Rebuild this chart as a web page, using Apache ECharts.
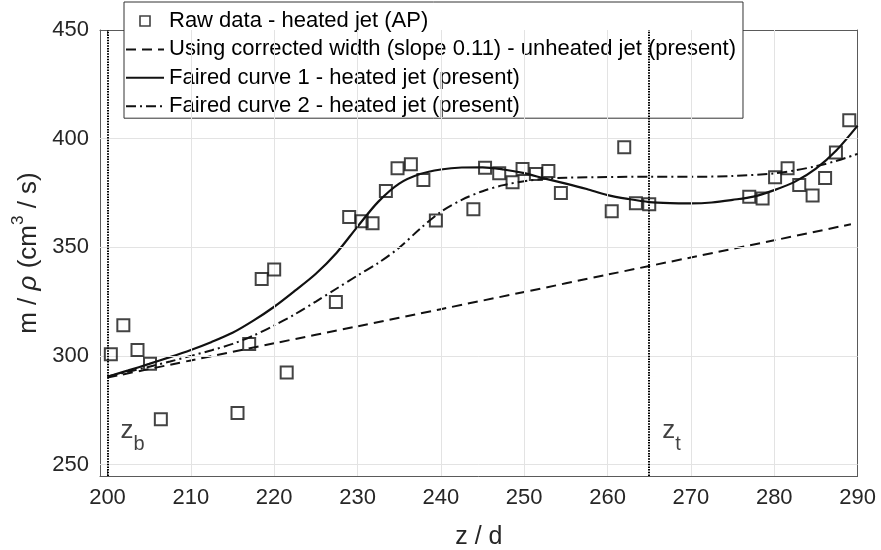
<!DOCTYPE html>
<html><head><meta charset="utf-8">
<script src="https://cdn.jsdelivr.net/npm/echarts@6/dist/echarts.min.js"></script>
<style>html,body{margin:0;padding:0;background:#fff}#c{width:881px;height:550px}</style>
</head><body><div id="c"></div>
<script>
// ---- data ----
const rawZ = [200.4, 201.9, 203.6, 205.1, 206.4, 215.6, 217.0, 218.5, 220.0, 221.5, 227.4, 229.0, 230.5, 231.8, 233.4, 234.8, 236.4, 237.9, 239.4, 243.9, 245.3, 247.0, 248.6, 249.8, 251.4, 252.9, 254.4, 260.5, 262.0, 263.4, 265.0, 277.0, 278.6, 280.1, 281.6, 283.0, 284.6, 286.1, 287.4, 289.0];
const rawM = [300.7, 314.1, 302.7, 296.4, 270.8, 273.7, 305.5, 335.4, 339.7, 292.4, 324.8, 363.9, 362.0, 361.0, 375.9, 386.4, 388.2, 381.0, 362.3, 367.5, 386.6, 384.1, 379.9, 386.0, 383.7, 385.1, 375.0, 366.6, 396.0, 370.3, 369.8, 373.2, 372.4, 382.2, 386.4, 378.7, 373.8, 381.9, 393.6, 408.5];

const dashZ = [200, 210, 220, 230, 240, 250, 260, 270, 280, 289.2];
const dashM = [290.0, 297.9, 305.8, 313.6, 321.5, 329.4, 337.4, 345.3, 353.2, 360.6];

const fair1Z = [200, 202.5, 205, 207.5, 210, 212.5, 215, 217.5, 220, 222.5, 225, 227.5, 230, 232.5, 235, 237.5, 240, 242.5, 245, 247.5, 250, 252.5, 255, 257.5, 260, 262.5, 265, 267.5, 270, 272.5, 275, 277.5, 280, 282.5, 285, 287.5, 290];
const fair1M = [290.4, 293.3, 296.3, 299.4, 302.7, 306.4, 310.6, 316.2, 322.6, 330.0, 337.8, 347.5, 359.5, 371.0, 379.3, 383.7, 385.8, 386.7, 386.8, 385.8, 384.1, 381.6, 379.3, 376.8, 374.0, 372.2, 370.8, 370.3, 370.2, 370.6, 371.8, 373.3, 376.3, 380.2, 386.2, 394.8, 406.0];

const fair2Z = [200, 202.5, 205, 207.5, 210, 212.5, 215, 217.5, 220, 222.5, 225, 227.5, 230, 232.5, 235, 237.5, 240, 242.5, 245, 247.5, 250, 252.5, 255, 260, 265, 270, 275, 280, 282.5, 285, 287.5, 290];
const fair2M = [290.5, 292.7, 295.0, 297.4, 300.0, 302.6, 305.5, 309.3, 314.0, 319.2, 325.0, 331.0, 337.0, 342.8, 349.8, 358.5, 366.3, 371.8, 375.8, 378.6, 380.4, 381.5, 382.0, 382.3, 382.5, 382.4, 382.8, 384.0, 385.4, 387.3, 389.8, 393.0];

const xTicks = [200, 210, 220, 230, 240, 250, 260, 270, 280, 290];
const yTicks = [250, 300, 350, 400, 450];
const zMarks = [200, 265];
const zMarkSubs = ['b', 't'];
const zLabelM = 263;

const seriesNames = [
  'Raw data - heated jet (AP)',
  'Using corrected width (slope 0.11) - unheated jet (present)',
  'Faired curve 1 - heated jet (present)',
  'Faired curve 2 - heated jet (present)'
];

// ---- chart ----
const FONT = "'Liberation Sans', Arial, Helvetica, sans-serif";
const pairs = (a, b) => a.map((v, i) => [v, b[i]]);
const X_MIN = 199.1, X_MAX = 290, Y_MIN = 244.7, Y_MAX = 450;
const AXC = '#5a5a5a';
const TXT = '#262626';

const chart = echarts.init(document.getElementById('c'), null, {renderer: 'canvas'});

function mkX(pos, show) {
  return {
    type: 'value', min: X_MIN, max: X_MAX, position: pos,
    axisLine: {show: true, onZero: false, lineStyle: {color: AXC, width: 1}},
    axisTick: {show: true, inside: true, length: 6, customValues: xTicks, lineStyle: {color: AXC, width: 1}},
    axisLabel: {show: show, customValues: xTicks, fontSize: 22, color: TXT, margin: 11, fontFamily: FONT},
    splitLine: {show: false},
    name: show ? 'z / d' : '', nameLocation: 'middle', nameGap: 49,
    nameTextStyle: {fontSize: 25, color: TXT, fontFamily: FONT}
  };
}
function mkY(pos, show) {
  return {
    type: 'value', min: Y_MIN, max: Y_MAX, position: pos,
    axisLine: {show: true, onZero: false, lineStyle: {color: AXC, width: 1}},
    axisTick: {show: true, inside: true, length: 6, customValues: yTicks, lineStyle: {color: AXC, width: 1}},
    axisLabel: {show: show, customValues: yTicks, fontSize: 22, color: TXT, margin: 11, fontFamily: FONT},
    splitLine: {show: false},
    name: show ? '{a|m / }{i|\u03c1}{a| (cm}{sup|3}{a| / s)}' : '', nameLocation: 'middle', nameGap: 45,
    nameTextStyle: {fontSize: 26, color: TXT, fontFamily: FONT, lineHeight: 32,
      rich: {
        a: {fontSize: 26, color: TXT, fontFamily: FONT, verticalAlign: 'bottom'},
        i: {fontSize: 26, color: TXT, fontFamily: FONT, fontStyle: 'italic', verticalAlign: 'bottom'},
        sup: {fontSize: 17, color: TXT, fontFamily: FONT, verticalAlign: 'top'}
      }}
  };
}

const hiddenDot = {color: 'rgba(0,0,0,0)', borderWidth: 0};

const option = {
  animation: false,
  backgroundColor: '#fff',
  grid: {left: 100, right: 23.4, top: 30, bottom: 74, containLabel: false, outerBoundsMode: 'none'},
  xAxis: [mkX('bottom', true), mkX('top', false)],
  yAxis: [mkY('left', true), mkY('right', false)],
  legend: {
    orient: 'vertical', left: 124, top: 2,
    data: [
      {name: seriesNames[0], icon: 'path://M0,0h10v10h-10z',
       itemStyle: {color: 'rgba(0,0,0,0)', borderColor: '#111', borderWidth: 1.6}},
      {name: seriesNames[1], itemStyle: hiddenDot},
      {name: seriesNames[2], itemStyle: hiddenDot},
      {name: seriesNames[3], itemStyle: hiddenDot}
    ],
    itemWidth: 38, itemHeight: 10, itemGap: 6.4,
    backgroundColor: '#fff', borderColor: '#333', borderWidth: 1,
    padding: [8, 7, 1, 1],
    textStyle: {fontSize: 22, color: '#000', fontFamily: FONT},
    selectedMode: false
  },
  series: [
    { // grid lines
      type: 'line', data: [], silent: true, z: 1,
      markLine: {
        silent: true, symbol: ['none', 'none'], label: {show: false},
        lineStyle: {color: '#e3e3e3', width: 1, type: 'solid'},
        emphasis: {disabled: true},
        data: yTicks.filter(v => v < Y_MAX).map(v => ({yAxis: v}))
          .concat(xTicks.filter(v => v > 200 && v < X_MAX).map(v => ({xAxis: v})))
      }
    },
    { // z_b / z_t vertical lines
      type: 'line', data: [], silent: true, z: 3,
      markLine: {
        silent: true, symbol: ['none', 'none'], label: {show: false},
        lineStyle: {color: '#000', width: 2, type: [1.5, 1.2]},
        emphasis: {disabled: true},
        data: zMarks.map(v => ({xAxis: v}))
      }
    },
    {
      name: seriesNames[0], type: 'scatter', z: 5,
      data: pairs(rawZ, rawM),
      symbol: 'rect', symbolSize: 12,
      itemStyle: {color: 'rgba(0,0,0,0)', borderColor: '#141414', borderWidth: 2}
    },
    {
      name: seriesNames[1], type: 'line', z: 4, symbol: 'none', smooth: 0.3,
      data: pairs(dashZ, dashM),
      itemStyle: {color: '#111'},
      lineStyle: {color: '#111', width: 2, type: [10, 6]}
    },
    {
      name: seriesNames[2], type: 'line', z: 4, symbol: 'none', smooth: 0.3,
      data: pairs(fair1Z, fair1M),
      itemStyle: {color: '#111'},
      lineStyle: {color: '#111', width: 2.2, type: 'solid'}
    },
    {
      name: seriesNames[3], type: 'line', z: 4, symbol: 'none', smooth: 0.3,
      data: pairs(fair2Z, fair2M),
      itemStyle: {color: '#111'},
      lineStyle: {color: '#111', width: 2, type: [10, 4, 2, 4]}
    },
    { // z labels
      type: 'scatter', z: 6, silent: true, symbolSize: 0,
      data: zMarks.map((v, i) => ({value: [v, zLabelM], sub: zMarkSubs[i]})),
      label: {
        show: true, position: 'right', distance: 13,
        formatter: p => '{z|z}{s|' + p.data.sub + '}',
        lineHeight: 36,
        rich: {
          z: {fontSize: 26, color: '#111', fontFamily: FONT, verticalAlign: 'top'},
          s: {fontSize: 20, color: '#111', fontFamily: FONT, verticalAlign: 'bottom'}
        }
      }
    }
  ]
};
chart.setOption(option);
</script>
</body></html>
